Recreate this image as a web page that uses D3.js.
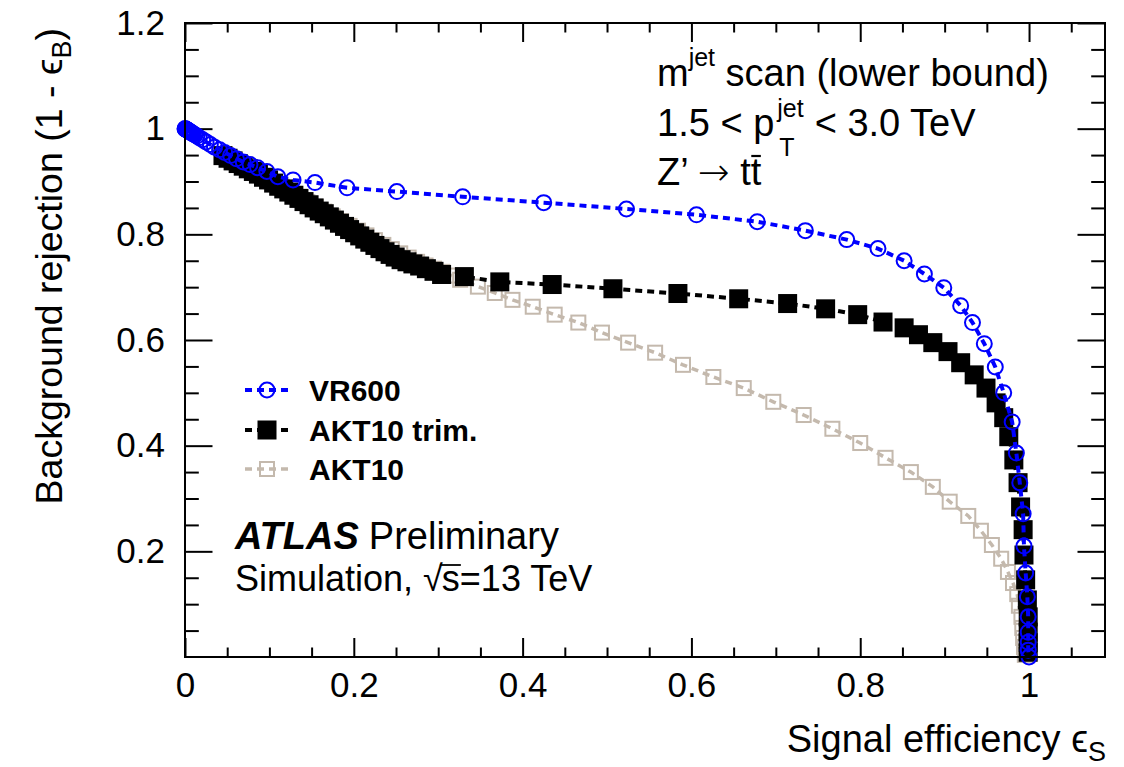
<!DOCTYPE html>
<html><head><meta charset="utf-8">
<script src="https://cdn.jsdelivr.net/npm/d3@7"></script>
<style>
html,body{margin:0;padding:0;background:#fff;}
svg{display:block;}
text{font-family:"Liberation Sans",Arial,Helvetica,sans-serif;fill:#000;}
</style></head><body>
<svg id="chart" width="1124" height="767"></svg>
<script>
// ROC curves from a lower-bound jet-mass scan: signal efficiency vs background rejection
const vr600Eff = [0, 0.0003, 0.0006, 0.001, 0.0013, 0.0016, 0.002, 0.0025, 0.003, 0.0035, 0.004, 0.005, 0.006, 0.007, 0.008, 0.009, 0.010, 0.012, 0.014, 0.017, 0.021, 0.025, 0.030, 0.035, 0.041, 0.047, 0.054, 0.061, 0.069, 0.077, 0.086, 0.097, 0.110, 0.128, 0.154, 0.192, 0.251, 0.329, 0.425, 0.523, 0.606, 0.678, 0.735, 0.784, 0.821, 0.852, 0.876, 0.899, 0.919, 0.933, 0.947, 0.960, 0.970, 0.980, 0.985, 0.989, 0.993, 0.994, 0.996, 0.998, 0.999, 0.999, 0.999, 0.999, 1.0];
const vr600Rej = [1.0, 0.9997, 0.9994, 0.999, 0.9987, 0.9984, 0.998, 0.9975, 0.997, 0.9965, 0.996, 0.995, 0.994, 0.993, 0.992, 0.991, 0.990, 0.988, 0.986, 0.983, 0.979, 0.975, 0.970, 0.965, 0.960, 0.955, 0.949, 0.943, 0.937, 0.932, 0.926, 0.919, 0.909, 0.903, 0.898, 0.888, 0.881, 0.871, 0.860, 0.848, 0.837, 0.824, 0.807, 0.790, 0.773, 0.750, 0.725, 0.699, 0.665, 0.633, 0.593, 0.549, 0.500, 0.445, 0.386, 0.330, 0.271, 0.210, 0.159, 0.114, 0.076, 0.047, 0.028, 0.013, 0.0];

const trimEff = [0.045, 0.051, 0.057, 0.063, 0.069, 0.075, 0.081, 0.087, 0.093, 0.099, 0.105, 0.111, 0.117, 0.123, 0.129, 0.135, 0.141, 0.147, 0.153, 0.159, 0.165, 0.171, 0.177, 0.183, 0.189, 0.195, 0.201, 0.207, 0.213, 0.219, 0.225, 0.231, 0.237, 0.243, 0.249, 0.256, 0.263, 0.270, 0.278, 0.286, 0.295, 0.304, 0.331, 0.373, 0.435, 0.507, 0.584, 0.656, 0.714, 0.759, 0.797, 0.827, 0.852, 0.869, 0.886, 0.904, 0.919, 0.935, 0.949, 0.961, 0.970, 0.976, 0.982, 0.987, 0.990, 0.993, 0.994, 0.996, 0.998, 0.999, 0.999, 0.999, 0.999];
const trimRej = [0.949, 0.944, 0.939, 0.934, 0.929, 0.924, 0.919, 0.914, 0.908, 0.903, 0.897, 0.891, 0.886, 0.880, 0.874, 0.868, 0.862, 0.856, 0.850, 0.844, 0.839, 0.833, 0.827, 0.821, 0.815, 0.809, 0.803, 0.797, 0.791, 0.785, 0.779, 0.773, 0.767, 0.762, 0.757, 0.752, 0.748, 0.744, 0.740, 0.735, 0.730, 0.724, 0.720, 0.710, 0.705, 0.697, 0.688, 0.678, 0.669, 0.659, 0.648, 0.634, 0.623, 0.610, 0.595, 0.578, 0.557, 0.534, 0.509, 0.481, 0.453, 0.417, 0.373, 0.330, 0.284, 0.241, 0.193, 0.146, 0.108, 0.076, 0.047, 0.027, 0.009];

const akt10Eff = [0.045, 0.055, 0.065, 0.075, 0.085, 0.095, 0.105, 0.115, 0.125, 0.135, 0.145, 0.155, 0.165, 0.175, 0.185, 0.195, 0.205, 0.215, 0.225, 0.235, 0.245, 0.255, 0.265, 0.275, 0.285, 0.295, 0.305, 0.315, 0.326, 0.347, 0.367, 0.388, 0.412, 0.438, 0.466, 0.494, 0.525, 0.557, 0.590, 0.626, 0.662, 0.697, 0.733, 0.767, 0.800, 0.830, 0.860, 0.886, 0.906, 0.928, 0.943, 0.956, 0.967, 0.975, 0.981, 0.986, 0.988, 0.991, 0.992, 0.993, 0.994, 0.995];
const akt10Rej = [0.949, 0.941, 0.933, 0.925, 0.917, 0.908, 0.899, 0.890, 0.880, 0.871, 0.861, 0.852, 0.843, 0.834, 0.825, 0.816, 0.807, 0.798, 0.789, 0.780, 0.772, 0.764, 0.756, 0.748, 0.741, 0.735, 0.729, 0.722, 0.714, 0.701, 0.689, 0.676, 0.663, 0.648, 0.633, 0.614, 0.595, 0.576, 0.553, 0.530, 0.509, 0.483, 0.458, 0.432, 0.405, 0.377, 0.350, 0.322, 0.294, 0.267, 0.239, 0.212, 0.186, 0.161, 0.140, 0.119, 0.097, 0.076, 0.055, 0.036, 0.019, 0.004];

const seriesNames = ["VR600", "AKT10 trim.", "AKT10"];
const xTickValues = [0, 0.2, 0.4, 0.6, 0.8, 1];
const xTickLabels = ["0", "0.2", "0.4", "0.6", "0.8", "1"];
const yTickValues = [0.2, 0.4, 0.6, 0.8, 1, 1.2];
const yTickLabels = ["0.2", "0.4", "0.6", "0.8", "1", "1.2"];

const svg = d3.select("#chart");
const frame = {left: 185, right: 1105, top: 23, bottom: 657};
const x = d3.scaleLinear().domain([0, 1.09]).range([frame.left, frame.right]);
const y = d3.scaleLinear().domain([0, 1.2]).range([frame.bottom, frame.top]);

const tickFont = 35, textFont = 38;
const xMajorLen = 19, xMinorLen = 9.5, yMajorLen = 27.5, yMinorLen = 13.8;
const xMinor = d3.range(0, 21.5).map(i => i * 0.05).filter(v => !xTickValues.some(t => Math.abs(t - v) < 1e-9));
const yMinor = d3.range(1, 24).map(i => i * 0.05).filter(v => !yTickValues.some(t => Math.abs(t - v) < 1e-9));

function styleAxis(g) {
  g.select(".domain").remove();
  g.selectAll(".tick line").attr("stroke", "#000").attr("stroke-width", 2);
  g.selectAll(".tick text").attr("font-size", tickFont).attr("font-family", '"Liberation Sans",Arial,sans-serif').attr("fill", "#000");
}

// bottom axis with labels
svg.append("g").attr("transform", `translate(0,${frame.bottom})`)
  .call(d3.axisBottom(x).tickValues(xTickValues).tickSize(-xMajorLen).tickPadding(15)
    .tickFormat((d, i) => xTickLabels[i]))
  .call(styleAxis);
svg.append("g").attr("transform", `translate(0,${frame.bottom})`)
  .call(d3.axisBottom(x).tickValues(xMinor).tickSize(-xMinorLen).tickFormat(""))
  .call(styleAxis);
// top axis ticks
svg.append("g").attr("transform", `translate(0,${frame.top})`)
  .call(d3.axisTop(x).tickValues(xTickValues).tickSize(-xMajorLen).tickFormat(""))
  .call(styleAxis);
svg.append("g").attr("transform", `translate(0,${frame.top})`)
  .call(d3.axisTop(x).tickValues(xMinor).tickSize(-xMinorLen).tickFormat(""))
  .call(styleAxis);
// left axis with labels
svg.append("g").attr("transform", `translate(${frame.left},0)`)
  .call(d3.axisLeft(y).tickValues(yTickValues).tickSize(-yMajorLen).tickPadding(20)
    .tickFormat((d, i) => yTickLabels[i]))
  .call(styleAxis);
svg.append("g").attr("transform", `translate(${frame.left},0)`)
  .call(d3.axisLeft(y).tickValues(yMinor).tickSize(-yMinorLen).tickFormat(""))
  .call(styleAxis);
// right axis ticks
svg.append("g").attr("transform", `translate(${frame.right},0)`)
  .call(d3.axisRight(y).tickValues(yTickValues).tickSize(-yMajorLen).tickFormat(""))
  .call(styleAxis);
svg.append("g").attr("transform", `translate(${frame.right},0)`)
  .call(d3.axisRight(y).tickValues(yMinor).tickSize(-yMinorLen).tickFormat(""))
  .call(styleAxis);

// series styles
const blue = "#0000ff", grey = "#c4b9ad";
const series = [
  {name: seriesNames[2], eff: akt10Eff, rej: akt10Rej, color: grey, marker: "openSquare", lw: 3.5},
  {name: seriesNames[1], eff: trimEff, rej: trimRej, color: "#000", marker: "fullSquare", lw: 4},
  {name: seriesNames[0], eff: vr600Eff, rej: vr600Rej, color: blue, marker: "openCircle", lw: 4}
];

function drawMarker(g, kind, color, cx, cy) {
  if (kind === "openCircle") {
    g.append("circle").attr("cx", cx).attr("cy", cy).attr("r", 7.5)
      .attr("fill", "none").attr("stroke", color).attr("stroke-width", 2);
  } else if (kind === "fullSquare") {
    g.append("rect").attr("x", cx - 9.5).attr("y", cy - 9.5).attr("width", 19).attr("height", 19)
      .attr("fill", color);
  } else {
    g.append("rect").attr("x", cx - 7).attr("y", cy - 7).attr("width", 14).attr("height", 14)
      .attr("fill", "none").attr("stroke", color).attr("stroke-width", 2);
  }
}

const plot = svg.append("g");
series.forEach(s => {
  const pts = s.eff.map((e, i) => [e, s.rej[i]]);
  const g = plot.append("g");
  g.append("path").datum(pts)
    .attr("d", d3.line().x(d => x(d[0])).y(d => y(d[1])))
    .attr("fill", "none").attr("stroke", s.color).attr("stroke-width", s.lw)
    .attr("stroke-dasharray", "7,5");
  pts.forEach(p => drawMarker(g, s.marker, s.color, x(p[0]), y(p[1])));
});

// frame
svg.append("rect").attr("x", frame.left).attr("y", frame.top)
  .attr("width", frame.right - frame.left).attr("height", frame.bottom - frame.top)
  .attr("fill", "none").attr("stroke", "#000").attr("stroke-width", 2);

// legend
const legendRows = [
  {s: series[2], cy: 390},
  {s: series[1], cy: 430},
  {s: series[0], cy: 469}
];
legendRows.forEach(r => {
  const g = svg.append("g");
  g.append("line").attr("x1", 245).attr("x2", 289).attr("y1", r.cy).attr("y2", r.cy)
    .attr("stroke", r.s.color).attr("stroke-width", r.s.lw).attr("stroke-dasharray", "7,5");
  drawMarker(g, r.s.marker, r.s.color, 267, r.cy);
  g.append("text").attr("x", 309).attr("y", r.cy + 11).attr("font-size", 30)
    .attr("font-weight", "bold").text(r.s.name);
});

// axis titles
const xt = svg.append("text").attr("x", 1106).attr("y", 752).attr("text-anchor", "end").attr("font-size", textFont);
xt.append("tspan").text("Signal efficiency \u03F5");
xt.append("tspan").attr("font-size", 27).attr("dy", 9).text("S");

const yt = svg.append("text").attr("transform", "translate(62,28) rotate(-90)")
  .attr("text-anchor", "end").attr("font-size", 37.5);
yt.append("tspan").text("Background rejection (1 - \u03F5");
yt.append("tspan").attr("font-size", 27).attr("dy", 9).text("B");
yt.append("tspan").attr("dy", -9).text(")");

// selection labels, top right
const lx = 657, supFont = 25;
const l1 = svg.append("text").attr("x", lx).attr("y", 86).attr("font-size", textFont);
l1.append("tspan").text("m");
l1.append("tspan").attr("font-size", supFont).attr("dy", -20).text("jet");
l1.append("tspan").attr("dy", 20).text(" scan (lower bound)");

const l2a = svg.append("text").attr("x", lx).attr("y", 136).attr("font-size", textFont).text("1.5 < p");
const w2 = l2a.node().getComputedTextLength();
const sup = svg.append("text").attr("x", lx + w2 + 3).attr("y", 117).attr("font-size", supFont).text("jet");
svg.append("text").attr("x", lx + w2 + 5).attr("y", 156).attr("font-size", supFont).text("T");
const wSup = sup.node().getComputedTextLength();
svg.append("text").attr("x", lx + w2 + 3 + wSup + 11).attr("y", 136).attr("font-size", textFont).text("< 3.0 TeV");

const l3 = svg.append("text").attr("x", lx).attr("y", 185).attr("font-size", textFont);
l3.append("tspan").text("Z\u2019 ");
l3.append("tspan").attr("font-family", '"DejaVu Sans",sans-serif').attr("font-weight", 300).text("\u2192");
l3.append("tspan").text(" tt");
const w3 = l3.node().getComputedTextLength();
const tProbe = svg.append("text").attr("font-size", textFont).text("t");
const wt = tProbe.node().getComputedTextLength();
tProbe.remove();
svg.append("line").attr("x1", lx + w3 - wt + 0.5).attr("x2", lx + w3 - 0.5)
  .attr("y1", 156).attr("y2", 156).attr("stroke", "#000").attr("stroke-width", 2.2);

// experiment label
const ax = 235;
const atl = svg.append("text").attr("x", ax).attr("y", 549).attr("font-size", textFont)
  .attr("font-weight", "bold").attr("font-style", "italic").text("ATLAS");
const wa = atl.node().getComputedTextLength();
svg.append("text").attr("x", ax + wa + 10).attr("y", 549).attr("font-size", textFont).text("Preliminary");

const simFont = 36;
const s1 = svg.append("text").attr("x", ax).attr("y", 591).attr("font-size", simFont).text("Simulation, \u221A");
const ws1 = s1.node().getComputedTextLength();
const s2 = svg.append("text").attr("x", ax + ws1 - 1).attr("y", 591).attr("font-size", simFont).text("s");
const ws2 = s2.node().getComputedTextLength();
svg.append("line").attr("x1", ax + ws1 - 3).attr("x2", ax + ws1 + ws2)
  .attr("y1", 565).attr("y2", 565).attr("stroke", "#000").attr("stroke-width", 1.8);
svg.append("text").attr("x", ax + ws1 + ws2 - 1).attr("y", 591).attr("font-size", simFont).text("=13 TeV");
</script>
</body></html>
